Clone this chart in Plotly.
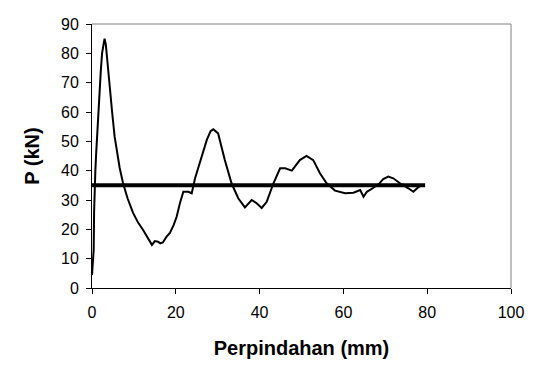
import plotly.graph_objects as go

disp = [0.0, 0.1, 0.2, 0.4, 0.5, 0.6, 0.8, 1.0, 1.2, 1.4, 1.6, 1.8, 2.1, 2.4, 2.7, 3.0, 3.3, 3.6,
        4.2, 4.8, 5.4, 6.0, 6.6, 7.4, 8.5, 9.8, 11.0, 12.2, 13.3, 14.3, 15.0, 15.75, 16.3, 16.9,
        17.8, 18.6, 19.5, 20.2, 21.0, 21.8, 23.0, 23.8, 24.6, 25.4, 26.2, 27.4, 28.3, 28.95,
        30.1, 30.9, 31.7, 33.3, 34.9, 36.5, 38.1, 39.3, 40.5, 41.7, 43.3, 44.9, 46.1, 47.7,
        49.6, 51.2, 52.8, 54.4, 56.0, 58.0, 60.4, 62.4, 64.0, 64.8, 65.6, 67.0, 68.5, 69.5,
        70.7, 71.9, 73.5, 75.5, 76.7, 77.6, 78.7]
load = [4.4, 8, 12, 13, 26, 34.5, 40, 46, 52, 57, 61, 67, 74, 80, 83, 85, 83, 78,
        68.6, 60, 51.6, 46, 41, 35.8, 30.5, 25.6, 22.3, 19.8, 17, 14.7, 16, 15.8, 15.2, 15.5,
        17.5, 18.8, 21.5, 24.3, 29, 32.8, 32.8, 32.3, 37.4, 41, 44.8, 50.5, 53.5, 54.1,
        52.7, 48, 43.6, 35.7, 30.6, 27.5, 30, 28.9, 27.3, 29.4, 35.7, 40.8, 40.8, 40,
        43.6, 45, 43.6, 39.1, 35.7, 33.2, 32.3, 32.5, 33.4, 31.1, 32.8, 34, 35.5, 37.1,
        38, 37.4, 35.7, 34, 32.8, 34, 35.1]

avg_x = [0, 79.5]
avg_y = [35, 35]

x_ticks = [0, 20, 40, 60, 80, 100]
y_ticks = [0, 10, 20, 30, 40, 50, 60, 70, 80, 90]

fig = go.Figure()
fig.add_trace(go.Scatter(x=disp, y=load, mode="lines",
                         line=dict(color="black", width=2), showlegend=False))
fig.add_trace(go.Scatter(x=avg_x, y=avg_y, mode="lines",
                         line=dict(color="black", width=4), showlegend=False))

font = "Liberation Sans, Arial, sans-serif"
fig.update_layout(
    width=551, height=374,
    margin=dict(l=92, r=40, t=24, b=86),
    paper_bgcolor="white", plot_bgcolor="white",
    font=dict(family=font, size=16, color="black"),
    xaxis=dict(range=[0, 100], tickvals=x_ticks, showgrid=False, zeroline=False,
               showline=True, linecolor="black", linewidth=1,
               ticks="outside", ticklen=5, tickcolor="black", ticklabelstandoff=5,
               title=dict(text="<b>Perpindahan (mm)</b>", font=dict(size=20), standoff=20)),
    yaxis=dict(range=[0, 90], tickvals=y_ticks, showgrid=False, zeroline=False,
               showline=True, linecolor="black", linewidth=1,
               ticks="outside", ticklen=5, tickcolor="black", ticklabelstandoff=4,
               title=dict(text="<b>P (kN)</b>", font=dict(size=20), standoff=16)),
    shapes=[
        dict(type="line", xref="paper", yref="paper", x0=0, x1=1, y0=1, y1=1,
             line=dict(color="#808080", width=1)),
        dict(type="line", xref="paper", yref="paper", x0=1, x1=1, y0=0, y1=1,
             line=dict(color="#808080", width=1)),
    ],
)

fig.write_html("out.html")
